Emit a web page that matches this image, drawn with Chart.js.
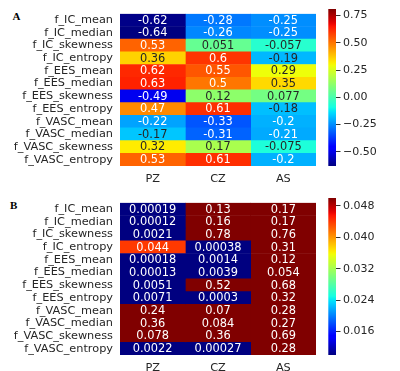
<!DOCTYPE html>
<html>
<head>
<meta charset="utf-8">
<script src="https://cdn.jsdelivr.net/npm/chart.js@4.4.1/dist/chart.umd.min.js"></script>
<style>
  html, body { margin: 0; padding: 0; background: #fff; }
  #wrap { position: relative; width: 400px; height: 371px; overflow: hidden; }
  canvas { position: absolute; }
  .panel { position: absolute; font-family: "Liberation Serif", serif; font-weight: bold; font-size: 11px; line-height: 11px; color: #000; }
</style>
</head>
<body>
<div id="wrap">
  <div class="panel" style="left:12.5px; top:11.4px;">A</div>
  <div class="panel" style="left:10px; top:200px;">B</div>
  <canvas id="hmA" width="316" height="190" style="left:0; top:0;"></canvas>
  <canvas id="cbA" width="80" height="190" style="left:320px; top:0;"></canvas>
  <canvas id="hmB" width="316" height="190" style="left:0; top:189px;"></canvas>
  <canvas id="cbB" width="80" height="190" style="left:320px; top:189px;"></canvas>
</div>
<script>
// ---------------- DATA ----------------
const rowLabels = ["f_IC_mean","f_IC_median","f_IC_skewness","f_IC_entropy",
  "f_EES_mean","f_EES_median","f_EES_skewness","f_EES_entropy",
  "f_VASC_mean","f_VASC_median","f_VASC_skewness","f_VASC_entropy"];
const colLabels = ["PZ","CZ","AS"];

// Panel A: correlation coefficients (columns PZ, CZ, AS)
const corrPZ = [-0.62,-0.64,0.53,0.36,0.62,0.63,-0.49,0.47,-0.22,-0.17,0.32,0.53];
const corrCZ = [-0.28,-0.26,0.051,0.6,0.55,0.5,0.12,0.61,-0.33,-0.31,0.17,0.61];
const corrAS = [-0.25,-0.25,-0.057,-0.19,0.29,0.35,0.077,-0.18,-0.2,-0.21,-0.075,-0.2];
const corrLabelsPZ = ["-0.62","-0.64","0.53","0.36","0.62","0.63","-0.49","0.47","-0.22","-0.17","0.32","0.53"];
const corrLabelsCZ = ["-0.28","-0.26","0.051","0.6","0.55","0.5","0.12","0.61","-0.33","-0.31","0.17","0.61"];
const corrLabelsAS = ["-0.25","-0.25","-0.057","-0.19","0.29","0.35","0.077","-0.18","-0.2","-0.21","-0.075","-0.2"];
const corrRange = [-0.63, 0.81];
const corrTicks = [-0.5,-0.25,0,0.25,0.5,0.75];

// Panel B: p-values (columns PZ, CZ, AS)
const pPZ = [0.00019,0.00012,0.0021,0.044,0.00018,0.00013,0.0051,0.0071,0.24,0.36,0.078,0.0022];
const pCZ = [0.13,0.16,0.78,0.00038,0.0014,0.0039,0.52,0.0003,0.07,0.084,0.36,0.00027];
const pAS = [0.17,0.17,0.76,0.31,0.12,0.054,0.68,0.32,0.28,0.27,0.69,0.28];
const pLabelsPZ = ["0.00019","0.00012","0.0021","0.044","0.00018","0.00013","0.0051","0.0071","0.24","0.36","0.078","0.0022"];
const pLabelsCZ = ["0.13","0.16","0.78","0.00038","0.0014","0.0039","0.52","0.0003","0.07","0.084","0.36","0.00027"];
const pLabelsAS = ["0.17","0.17","0.76","0.31","0.12","0.054","0.68","0.32","0.28","0.27","0.69","0.28"];
const pRange = [0.01, 0.05];
const pTicks = [0.016,0.024,0.032,0.040,0.048];

// ---------------- COLORMAP (jet) ----------------
const jetR = [[0,0],[0.35,0],[0.66,1],[0.89,1],[1,0.5]];
const jetG = [[0,0],[0.125,0],[0.375,1],[0.64,1],[0.91,0],[1,0]];
const jetB = [[0,0.5],[0.11,1],[0.34,1],[0.65,0],[1,0]];
function seg(s, t) {
  for (let i = 1; i < s.length; i++) {
    if (t <= s[i][0]) {
      const a = s[i-1], b = s[i];
      return a[1] + (b[1]-a[1]) * (t - a[0]) / (b[0]-a[0]);
    }
  }
  return s[s.length-1][1];
}
function jet(t) {
  t = Math.max(0, Math.min(1, t));
  return [seg(jetR,t), seg(jetG,t), seg(jetB,t)];
}
function rgbStr(c) { return `rgb(${Math.round(c[0]*255)},${Math.round(c[1]*255)},${Math.round(c[2]*255)})`; }
function lum(c) {
  const l = c.map(v => v <= 0.03928 ? v/12.92 : Math.pow((v+0.055)/1.055, 2.4));
  return 0.2126*l[0] + 0.7152*l[1] + 0.0722*l[2];
}
function norm(v, r) { return (v - r[0]) / (r[1] - r[0]); }

const FONT = '"DejaVu Sans", sans-serif';
const TXT = '#262626';

// ---------------- HEATMAP ----------------
function makeHeatmap(id, cols, labels, range) {
  const datasets = cols.map((vals, c) => ({
    data: vals.map(() => [c, c+1]),
    values: vals,
    texts: labels[c],
    backgroundColor: vals.map(v => rgbStr(jet(norm(v, range)))),
    borderWidth: 0,
    grouped: false,
    barPercentage: 1,
    categoryPercentage: 1
  }));
  const annot = {
    id: 'annot',
    afterDatasetsDraw(chart) {
      const ctx = chart.ctx;
      ctx.save();
      ctx.font = '11.4px ' + FONT;
      ctx.textAlign = 'center';
      ctx.textBaseline = 'middle';
      chart.data.datasets.forEach((ds, di) => {
        const meta = chart.getDatasetMeta(di);
        meta.data.forEach((el, i) => {
          const col = jet(norm(ds.values[i], range));
          ctx.fillStyle = lum(col) > 0.408 ? TXT : '#ffffff';
          ctx.fillText(ds.texts[i], (el.x + el.base) / 2, el.y + 0.5);
        });
      });
      ctx.restore();
    }
  };
  return new Chart(document.getElementById(id), {
    type: 'bar',
    data: { labels: rowLabels, datasets },
    plugins: [annot],
    options: {
      indexAxis: 'y',
      responsive: false,
      animation: false,
      layout: { padding: { top: 7.3, right: 0, left: 0, bottom: 0 } },
      plugins: { legend: { display: false }, tooltip: { enabled: false } },
      scales: {
        x: {
          type: 'linear', min: 0, max: 3,
          grid: { display: false, drawTicks: false },
          border: { display: false },
          afterBuildTicks(s) { s.ticks = colLabels.map((_, i) => ({ value: i + 0.5 })); },
          afterFit(s) { s.height = 24; },
          ticks: {
            autoSkip: false, maxRotation: 0, padding: 6,
            color: TXT, font: { family: FONT, size: 11.3 },
            callback: (v, i) => colLabels[i]
          }
        },
        y: {
          type: 'category',
          grid: { display: false, drawTicks: false },
          border: { display: false },
          afterFit(s) { s.width = 120; },
          ticks: { autoSkip: false, padding: 7, color: TXT, font: { family: FONT, size: 11.3 } }
        }
      }
    }
  });
}

// ---------------- COLORBAR ----------------
function makeColorbar(id, range, ticks, digits) {
  return new Chart(document.getElementById(id), {
    type: 'bar',
    data: {
      labels: [''],
      datasets: [{
        data: [[range[0], range[1]]],
        borderWidth: 0,
        barPercentage: 1,
        categoryPercentage: 1,
        backgroundColor(ctx) {
          const ca = ctx.chart.chartArea;
          if (!ca) return '#888';
          const g = ctx.chart.ctx.createLinearGradient(0, ca.bottom, 0, ca.top);
          for (let k = 0; k <= 64; k++) g.addColorStop(k/64, rgbStr(jet(k/64)));
          return g;
        }
      }]
    },
    options: {
      responsive: false,
      animation: false,
      layout: { padding: { top: 7.3, bottom: 24, left: 8.3, right: 0 } },
      plugins: { legend: { display: false }, tooltip: { enabled: false } },
      scales: {
        x: { display: false },
        y: {
          type: 'linear', position: 'right', min: range[0], max: range[1],
          afterBuildTicks(s) { s.ticks = ticks.map(v => ({ value: v })); },
          afterFit(s) { s.width = 64; },
          grid: { drawOnChartArea: false, drawTicks: true, tickLength: 4.5, color: '#333', lineWidth: 1 },
          border: { display: false },
          ticks: {
            padding: 2.5, color: TXT, font: { family: FONT, size: 11 },
            callback: v => v.toFixed(digits).replace('-', '\u2212')
          }
        }
      }
    }
  });
}

makeHeatmap('hmA', [corrPZ, corrCZ, corrAS], [corrLabelsPZ, corrLabelsCZ, corrLabelsAS], corrRange);
makeColorbar('cbA', corrRange, corrTicks, 2);
makeHeatmap('hmB', [pPZ, pCZ, pAS], [pLabelsPZ, pLabelsCZ, pLabelsAS], pRange);
makeColorbar('cbB', pRange, pTicks, 3);
</script>
</body>
</html>
